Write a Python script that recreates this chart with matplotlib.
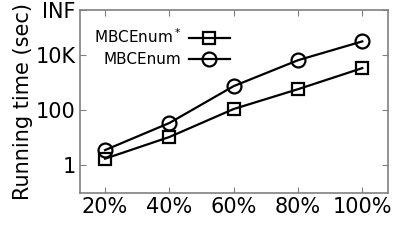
import numpy as np
import matplotlib.pyplot as plt

# data (running time in seconds, log scale)
percents = ['20%', '40%', '60%', '80%', '100%']
mbcenum_star = [1.7, 10.5, 110, 580, 3400]
mbcenum = [3.5, 34, 750, 6600, 32000]

ytick_vals = [1, 100, 1e4, 10 ** 5.65]
ytick_labels = ['1', '100', '10K', 'INF']

axiscol = '#808080'

fig = plt.figure(figsize=(4.07, 2.44), dpi=100)
ax = fig.add_axes([80 / 407, 1 - 193 / 244, 308 / 407, 183 / 244])

x = np.arange(len(percents))
ax.plot(x, mbcenum_star, color='black', lw=1.6, marker='s', markersize=9,
        markerfacecolor='none', markeredgewidth=1.6, label=r'MBCEnum$^*$')
ax.plot(x, mbcenum, color='black', lw=1.6, marker='o', markersize=10,
        markerfacecolor='none', markeredgewidth=1.6, label='MBCEnum')

ax.set_yscale('log')
ax.set_ylim(10 ** -1.02, 10 ** 5.65)
ax.set_xlim(-0.39, 4.4)
ax.set_xticks(x)
ax.set_xticklabels(percents, fontsize=15)
ax.set_yticks(ytick_vals)
ax.set_yticklabels(ytick_labels, fontsize=15)
ax.minorticks_off()
ax.set_ylabel('Running time (sec)', fontsize=15, labelpad=2)

for s in ax.spines.values():
    s.set_color(axiscol)
    s.set_linewidth(1.2)
ax.tick_params(direction='in', top=True, right=True, length=4,
               color=axiscol, pad=3)

ax.legend(loc='upper left', bbox_to_anchor=(0.0, 0.98), markerfirst=False,
          frameon=False, fontsize=11, handlelength=2.7, handletextpad=0.5,
          labelspacing=0.4)

fig.savefig('out.png', dpi=100)
